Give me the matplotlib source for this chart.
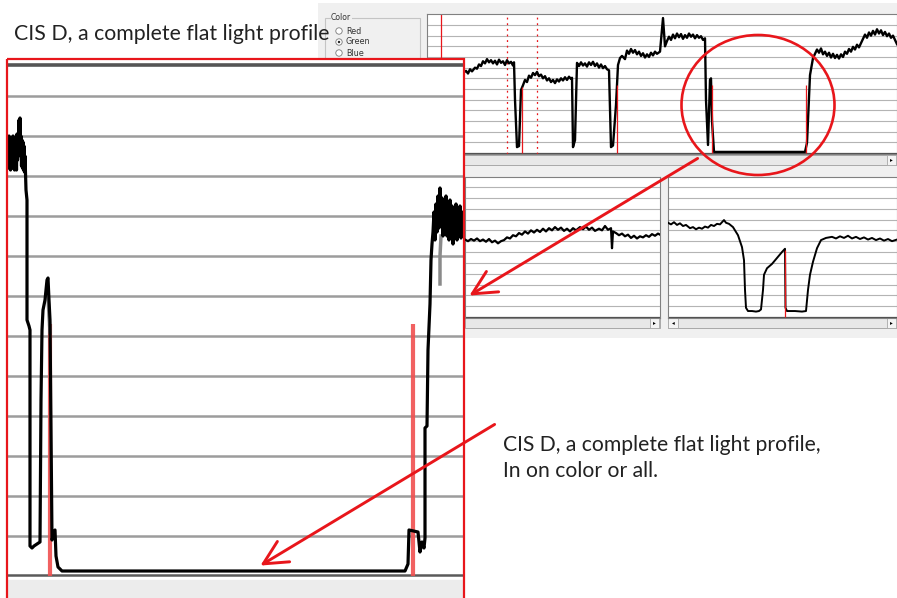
import matplotlib
matplotlib.use("Agg")
import matplotlib.pyplot as plt
from matplotlib.patches import Rectangle, Ellipse, Circle, FancyArrowPatch

# ---- data (x = sample index, y = light level, grid every 20) ----
GRID_LEVELS = [20, 40, 60, 80, 100, 120, 140, 160, 180, 200, 220, 240]

# overview profile (top window)
top_x = [36, 39, 41, 43, 45, 48, 50, 52, 54, 56, 58, 60, 62, 64, 66, 68, 70, 72, 74, 76,
         78, 80, 82, 84, 86, 87, 88, 90, 92, 94, 96, 98, 100, 102, 104, 106, 108, 110, 112, 114,
         116, 118, 120, 122, 124, 126, 128, 130, 132, 134, 136, 138, 140, 142, 144, 145, 146, 148, 150, 152,
         154, 156, 158, 160, 162, 164, 166, 168, 170, 172, 174, 176, 178, 180, 182, 184, 186, 189, 191, 193,
         195, 198, 200, 202, 204, 206, 208, 210, 212, 214, 216, 218, 220, 222, 224, 226, 228, 230, 233, 236,
         238, 240, 242, 244, 246, 248, 250, 252, 254, 256, 258, 260, 262, 264, 266, 268, 270, 272, 274, 276,
         278, 279, 281, 283, 284, 285, 287, 378, 380, 383, 386, 388, 390, 392, 394, 396, 398, 400, 402, 404,
         406, 408, 410, 412, 414, 416, 418, 420, 422, 424, 426, 428, 430, 432, 434, 436, 438, 440, 442, 444,
         446, 448, 450, 452, 454, 456, 458, 460, 462, 464, 466, 468, 470]
top_level = [150, 154, 149, 157, 153, 160, 158, 166, 163, 172, 168, 176, 170, 174, 168, 173, 166, 175, 169, 172,
             165, 174, 168, 171, 164, 170, 100, 11, 13, 118, 127, 137, 133, 145, 141, 150, 146, 152, 144, 147,
             140, 144, 136, 140, 133, 137, 131, 138, 134, 140, 136, 142, 137, 143, 139, 141, 11, 24, 169, 163,
             170, 164, 168, 162, 170, 165, 171, 163, 168, 160, 166, 159, 163, 157, 155, 11, 14, 90, 165, 178,
             182, 176, 192, 186, 195, 188, 193, 185, 190, 182, 187, 179, 185, 180, 188, 183, 190, 186, 190, 253,
             200, 210, 218, 212, 222, 215, 224, 217, 223, 214, 221, 216, 224, 218, 222, 215, 221, 216, 219, 212,
             215, 99, 15, 137, 140, 60, 2, 2, 19, 146, 178, 186, 194, 188, 196, 185, 190, 182, 188, 179,
             186, 178, 184, 177, 185, 180, 190, 186, 195, 190, 199, 194, 203, 198, 206, 214, 222, 216, 226, 220,
             229, 222, 232, 224, 230, 221, 227, 219, 224, 216, 220, 212, 204]
top_markers = [95, 190, 285, 379]
top_marker_level = [124, 128, 128, 128]
top_cursor = 14
top_dotted = [80, 110]

# lower-left window
bl_x = [0, 3, 6, 9, 12, 15, 18, 21, 24, 27, 30, 33, 36, 39, 42, 45, 48, 51, 54, 57,
        60, 63, 66, 69, 72, 75, 78, 81, 84, 87, 90, 93, 96, 99, 102, 105, 108, 111, 115, 118,
        121, 124, 127, 130, 134, 137, 140, 143, 146, 147, 148, 151, 154, 157, 160, 163, 166, 169, 172, 175,
        178, 181, 184, 187, 190, 193, 195]
bl_level = [143, 140, 144, 141, 145, 140, 143, 139, 144, 138, 141, 136, 140, 142, 147, 145, 151, 149, 155, 152,
            158, 154, 160, 156, 161, 157, 163, 158, 164, 160, 166, 161, 165, 159, 163, 158, 164, 160, 166, 162,
            167, 161, 165, 159, 163, 160, 168, 161, 164, 127, 158, 155, 151, 154, 149, 152, 146, 150, 145, 149,
            147, 151, 148, 153, 150, 154, 152]

# lower-right window
br_x = [0, 3, 6, 9, 12, 15, 18, 22, 25, 28, 31, 34, 37, 40, 43, 46, 49, 52, 56, 58,
        61, 65, 70, 74, 76, 77, 78, 80, 84, 88, 91, 93, 95, 96, 99, 104, 109, 114, 117, 117.5,
        119, 127, 134, 138, 140, 142, 145, 149, 153, 158, 164, 168, 172, 176, 180, 184, 188, 192, 196, 200,
        204, 208, 212, 216, 220, 224, 229]
br_level = [174, 171, 175, 170, 173, 168, 170, 164, 166, 162, 165, 163, 167, 165, 170, 168, 172, 171, 179, 174,
            172, 166, 151, 129, 105, 50, 17, 11, 11, 10, 11, 14, 50, 78, 90, 98, 109, 120, 126, 17,
            11, 11, 10, 11, 50, 78, 102, 127, 142, 146, 148, 145, 149, 146, 150, 145, 148, 144, 147, 143,
            146, 142, 145, 141, 144, 140, 143]
br_marker = 117
br_marker_level = 124

# magnified flat light profile
big_x = [0, 0.5, 1, 1.5, 2, 2.5, 3, 3.5, 4, 4.5, 5, 5.5, 6, 6.5, 7, 7.5, 8, 8.5, 9, 9.5,
         10, 10.5, 11, 11.5, 12, 12.5, 13, 13.5, 14, 14.5, 15, 15.5, 16, 16.5, 17, 18, 19,
         19, 21, 22, 22, 24, 26, 32, 33, 34, 35, 37, 39, 40, 41, 42, 44, 47, 48, 50, 54,
         397, 400, 401, 410, 412, 414, 416, 417, 417, 419, 420, 422, 423, 424, 425, 426, 427, 428, 429, 430,
         431, 432, 433, 434, 435, 436, 437, 438, 439, 440, 441, 442, 443, 444, 445, 446, 447, 448, 449, 450,
         451, 452, 453, 454, 455]
big_level = [213, 204, 220, 206, 216, 203, 219, 207, 217, 204, 220, 205, 218, 203, 219, 206, 217, 203, 221, 208,
             216, 210, 228, 212, 229, 214, 220, 205, 218, 204, 217, 203, 215, 202, 210, 193, 188,
             128, 125, 123, 15, 14, 15, 17, 88, 123, 133, 138, 148, 149, 138, 128, 18, 23, 10, 4.5, 2.5,
             2.5, 6, 23, 22, 12, 17, 14, 19, 74, 75, 113, 136, 158, 166, 172, 182, 168, 186, 172, 190,
             174, 194, 176, 189, 170, 186, 172, 190, 170, 184, 168, 188, 172, 185, 166, 182, 170, 186, 168, 183,
             171, 185, 169, 182, 176]
big_ghost_x = [[40, 41, 42], [432, 432, 433]]
big_ghost_level = [[140, 130, 122], [146, 160, 170]]
big_markers = [42, 405]
big_marker_level = 126

title = "CIS D, a complete flat light profile"
note_lines = ["CIS D, a complete flat light profile,", "In on color or all."]
radio_labels = ["Red", "Green", "Blue"]

RED = "#e8161b"
W, H = 897, 598

fig = plt.figure(figsize=(W / 100, H / 100), dpi=100)


def px_axes(x0, y0, x1, y1, z):
    ax = fig.add_axes([x0 / W, 1 - y1 / H, (x1 - x0) / W, (y1 - y0) / H], zorder=z)
    ax.set_xticks([])
    ax.set_yticks([])
    return ax


def style_window(ax, xmax, ylo, yhi):
    ax.set_xlim(0, xmax)
    ax.set_ylim(ylo, yhi)
    for g in GRID_LEVELS:
        ax.axhline(g, color="#b4b4b4", lw=0.8, zorder=1)
    ax.axhline(0, color="#505050", lw=0.9, zorder=1)
    for s in ax.spines.values():
        s.set_color("#808080")
        s.set_linewidth(0.8)


# background (GUI panel)
bg = fig.add_axes([0, 0, 1, 1], zorder=0)
bg.set_xlim(0, W)
bg.set_ylim(H, 0)
bg.axis("off")
bg.add_patch(Rectangle((318, 3), 579, 335, fc="#f0f0f0", ec="none"))
bg.add_patch(Rectangle((325, 18), 95, 50, fc="none", ec="#c4c4c4", lw=0.8))
bg.text(331, 18, "Color", fontsize=5.6, color="#333333", va="center",
        bbox=dict(fc="#f0f0f0", ec="none", pad=0.3))
for i, lab in enumerate(radio_labels):
    cy = 31 + i * 11
    bg.add_patch(Circle((339, cy), 3.2, fc="white", ec="#7a7a7a", lw=0.6))
    if lab == "Green":
        bg.add_patch(Circle((339, cy), 1.2, fc="#222222", ec="none"))
    bg.text(346, cy, lab, fontsize=5.8, color="#333333", va="center")

# scroll bars
for (x0, w) in [(427, 470), (465, 195), (668, 229)]:
    y0 = 155 if x0 == 427 else 318
    bg.add_patch(Rectangle((x0, y0), w, 10, fc="#e8e8e8", ec="#a8a8a8", lw=0.7))
    bg.add_patch(Rectangle((x0 + w - 10, y0), 9, 10, fc="#f4f4f4", ec="#a8a8a8", lw=0.6))
    bg.text(x0 + w - 5.5, y0 + 5, "\u25B8", fontsize=4, ha="center", va="center")
bg.add_patch(Rectangle((668, 318), 10, 10, fc="#f4f4f4", ec="#a8a8a8", lw=0.6))
bg.text(673, 323, "\u25C2", fontsize=4, ha="center", va="center")

# top overview window
ax_top = px_axes(427, 14, 897, 154, 1)
style_window(ax_top, 470, -1.9, 260.6)
ax_top.plot(top_x, top_level, color="black", lw=1.7, zorder=3)
ax_top.axvline(top_cursor, color=RED, lw=0.9, zorder=2)
for xd in top_dotted:
    ax_top.axvline(xd, color=RED, lw=0.9, ls=(0, (1.5, 3)), zorder=2)
ax_top.vlines(top_markers, 0, top_marker_level, color=RED, lw=0.9, zorder=4)

# lower windows
ax_bl = px_axes(465, 177, 660, 318, 1)
style_window(ax_bl, 195, -1.85, 258.5)
ax_bl.plot(bl_x, bl_level, color="black", lw=1.6, zorder=3)

ax_br = px_axes(668, 177, 897, 318, 1)
style_window(ax_br, 229, -1.85, 258.5)
ax_br.plot(br_x, br_level, color="black", lw=1.4, zorder=3)
ax_br.vlines([br_marker], 0, br_marker_level, color=RED, lw=0.9, zorder=4)

# magnified view
ax_big = px_axes(7, 59, 464, 598, 2)
ax_big.set_xlim(-1, 456)
ax_big.set_ylim(-11, 258.5)
for s in ax_big.spines.values():
    s.set_visible(False)
for g in GRID_LEVELS:
    ax_big.axhline(g, color="#9c9c9c", lw=1.8, zorder=1)
ax_big.axhline(255.5, color="#555555", lw=2.6, zorder=1)
ax_big.axhline(0.5, color="#5a5a5a", lw=1.8, zorder=1)
ax_big.axhspan(-11, -2, color="#ececec", zorder=1)
ax_big.vlines(big_markers, 0, big_marker_level, color="#f05050", lw=3, alpha=0.9, zorder=2)
for gx, gy in zip(big_ghost_x, big_ghost_level):
    ax_big.plot(gx, gy, color="#8a8a8a", lw=2.5, zorder=3)
ax_big.plot(big_x, big_level, color="black", lw=2.3, zorder=4)

# overlay: frame, ellipse, arrows, text
ov = fig.add_axes([0, 0, 1, 1], zorder=10)
ov.set_xlim(0, W)
ov.set_ylim(H, 0)
ov.axis("off")
ov.patch.set_alpha(0)
ov.add_patch(Rectangle((7, 59), 457, 545, fc="none", ec=RED, lw=1.6))
ov.add_patch(Ellipse((758, 105), 153, 140, fc="none", ec=RED, lw=1.9))
for start, end in [((700, 157), (467, 297)), ((497, 423), (258, 567))]:
    ov.add_patch(FancyArrowPatch(start, end, arrowstyle="->,head_length=0.9,head_width=0.45",
                                 mutation_scale=19, color=RED, lw=2.1))

ov.text(14, 40, title, fontsize=15.3, family="Lato", color="#222222", va="baseline")
for i, line in enumerate(note_lines):
    ov.text(503, 451 + 26 * i, line, fontsize=15.2, family="Lato", color="#222222",
            va="baseline")

fig.savefig("out.png", dpi=100)
